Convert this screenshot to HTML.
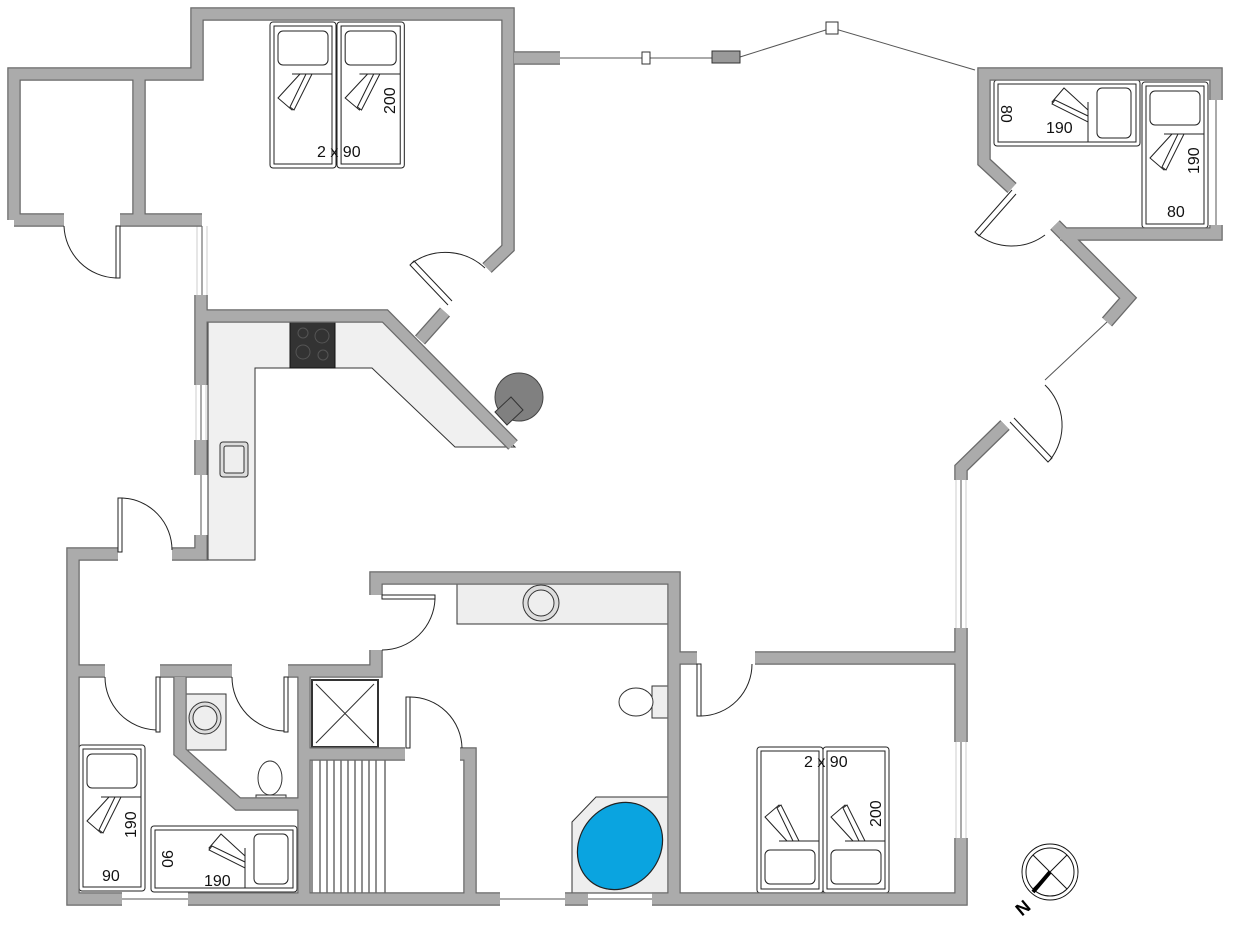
<!DOCTYPE html>
<html><head><meta charset="utf-8"><style>
html,body{margin:0;padding:0;background:#fff;}
svg{display:block;font-family:"Liberation Sans",sans-serif;}
</style></head><body>
<svg width="1243" height="941" viewBox="0 0 1243 941" xmlns="http://www.w3.org/2000/svg">
<defs>
<g id="bed">
  <rect x="0" y="0" width="66" height="146" rx="3" fill="#fff" stroke="#222" stroke-width="1"/>
  <rect x="4" y="4" width="58" height="138" fill="none" stroke="#222" stroke-width="1"/>
  <rect x="8" y="9" width="50" height="34" rx="5" fill="#fff" stroke="#222" stroke-width="1"/>
  <line x1="22" y1="52" x2="62" y2="52" stroke="#222"/>
  <polygon points="30,52 8,76 22,88 40,52" fill="#fff" stroke="#222"/>
  <polygon points="36,52 20,85 24,88 42,52" fill="#fff" stroke="#222"/>
</g>
</defs>

<g fill="#f0f0f0" stroke="#333" stroke-width="1">
  <path d="M208,322 L385,322 L515,447 L455,447 L372,368 L255,368 L255,560 L208,560 Z"/>
</g>
<rect x="290" y="322" width="45" height="46" fill="#333" stroke="#111"/>
<g fill="none" stroke="#555"><circle cx="303" cy="333" r="5"/><circle cx="322" cy="336" r="7"/><circle cx="303" cy="352" r="7"/><circle cx="323" cy="355" r="5"/></g>
<rect x="220" y="442" width="28" height="35" rx="3" fill="#ddd" stroke="#333"/>
<rect x="224" y="446" width="20" height="27" rx="2" fill="#eee" stroke="#333"/>
<circle cx="519" cy="397" r="24" fill="#808080" stroke="#444"/>
<polygon points="495,412 511,397 523,410 507,425" fill="#808080" stroke="#333"/>

<rect x="457" y="584" width="211" height="40" fill="#eee" stroke="#333"/>
<circle cx="541" cy="603" r="18" fill="#ddd" stroke="#333"/>
<circle cx="541" cy="603" r="13" fill="#eee" stroke="#333"/>
<rect x="652" y="686" width="16" height="32" fill="#eee" stroke="#333"/>
<ellipse cx="636" cy="702" rx="17" ry="14" fill="#fff" stroke="#333"/>
<polygon points="572,822 596,797 668,797 668,893 572,893" fill="#eee" stroke="#333"/>
<ellipse cx="620" cy="846" rx="40" ry="46" transform="rotate(40 620 846)" fill="#0aa4e0" stroke="#222" stroke-width="1.2"/>
<rect x="186" y="694" width="40" height="56" fill="#eee" stroke="#333"/>
<circle cx="205" cy="718" r="16" fill="#ddd" stroke="#333"/>
<circle cx="205" cy="718" r="12" fill="#eee" stroke="#333"/>
<ellipse cx="270" cy="778" rx="12" ry="17" fill="#fff" stroke="#333"/>
<rect x="256" y="795" width="30" height="14" fill="#eee" stroke="#333"/>
<rect x="312" y="680" width="66" height="67" fill="#fff" stroke="#333" stroke-width="2"/>
<path d="M316,684 L374,743 M374,684 L316,743" stroke="#333"/>
<g stroke="#222"><rect x="312" y="760" width="73" height="133" fill="#fff"/>
<path d="M320,760V893M327,760V893M334,760V893M341,760V893M348,760V893M355,760V893M362,760V893M369,760V893M376,760V893"/></g>

<use href="#bed" transform="translate(270,22)"/>
<use href="#bed" transform="translate(337,22) scale(1.02,1)"/>
<use href="#bed" transform="translate(757,893) scale(1,-1)"/>
<use href="#bed" transform="translate(823,893) scale(1,-1)"/>
<use href="#bed" transform="translate(1140,80) rotate(90)"/>
<use href="#bed" transform="translate(1142,82)"/>
<use href="#bed" transform="translate(79,745)"/>
<use href="#bed" transform="translate(297,826) rotate(90)"/>

<g font-size="16" fill="#111">
<text x="317" y="157">2 x 90</text>
<text x="804" y="767">2 x 90</text>
<text transform="translate(395,114) rotate(-90)">200</text>
<text transform="translate(881,827) rotate(-90)">200</text>
<text x="1046" y="133">190</text>
<text transform="translate(1001,105) rotate(90)">80</text>
<text transform="translate(1199,174) rotate(-90)">190</text>
<text x="1167" y="217">80</text>
<text transform="translate(136,838) rotate(-90)">190</text>
<text x="102" y="881">90</text>
<text transform="translate(162,850) rotate(90)">90</text>
<text x="204" y="886">190</text>
</g>

<g stroke="#555" stroke-width="1" fill="none">
<path d="M202,226V295 M201,385V440 M201,475V535 M122,899H188 M500,899H565 M588,899H652 M961,838V742 M961,628V480 M1107,322L1045,380 M1216,100V225"/>
<path d="M560,58H720 M740,57L832,28L975,70"/>
</g>
<g stroke="#ccc" stroke-width="1" fill="none">
<path d="M197,226V295 M207,226V295 M196,385V440 M206,385V440 M956,838V742 M966,838V742 M956,628V480 M966,628V480"/>
</g>
<rect x="712" y="51" width="28" height="12" fill="#999" stroke="#333"/>
<rect x="642" y="52" width="8" height="12" fill="#fff" stroke="#333"/>
<rect x="826" y="22" width="12" height="12" fill="#fff" stroke="#333"/>

<g fill="none" stroke-linejoin="miter" stroke-linecap="butt">
<g stroke="#6a6a6a" stroke-width="13.5">
<path d="M14,220 L14,74 L197,74 L197,14 L508,14 L508,248 L487,268"/>
<path d="M64,220 L14,220 M120,220 L202,220 M139,74 L139,220"/>
<path d="M201,295 V385 M201,440 V475 M201,535 V554 L172,554"/>
<path d="M118,554 L73,554 L73,899 L122,899 M188,899 L500,899 M565,899 L588,899 M652,899 L961,899 L961,838 M961,742 V628 M961,480 L961,468 L1005,425"/>
<path d="M1107,322 L1128,298 L1055,225 M1012,188 L984,162 L984,74 L1216,74 L1216,100 M1216,225 L1216,234 L1060,234"/>
<path d="M514,58 L560,58"/>
<path d="M202,316 L385,316 L513,445 M420,340 L445,312"/>
<path d="M73,671 L105,671 M160,671 L232,671 M288,671 L376,671 L376,650 M376,595 L376,578 L674,578 L674,899 M674,658 L697,658 M755,658 L961,658"/>
<path d="M180,677 L180,752 L238,804 L304,804 M304,671 L304,899 M304,754 L405,754 M460,754 L470,754 L470,899"/>
</g>
<g stroke="#ababab" stroke-width="11">
<path d="M14,220 L14,74 L197,74 L197,14 L508,14 L508,248 L487,268"/>
<path d="M64,220 L14,220 M120,220 L202,220 M139,74 L139,220"/>
<path d="M201,295 V385 M201,440 V475 M201,535 V554 L172,554"/>
<path d="M118,554 L73,554 L73,899 L122,899 M188,899 L500,899 M565,899 L588,899 M652,899 L961,899 L961,838 M961,742 V628 M961,480 L961,468 L1005,425"/>
<path d="M1107,322 L1128,298 L1055,225 M1012,188 L984,162 L984,74 L1216,74 L1216,100 M1216,225 L1216,234 L1060,234"/>
<path d="M514,58 L560,58"/>
<path d="M202,316 L385,316 L513,445 M420,340 L445,312"/>
<path d="M73,671 L105,671 M160,671 L232,671 M288,671 L376,671 L376,650 M376,595 L376,578 L674,578 L674,899 M674,658 L697,658 M755,658 L961,658"/>
<path d="M180,677 L180,752 L238,804 L304,804 M304,671 L304,899 M304,754 L405,754 M460,754 L470,754 L470,899"/>
</g>
</g>

<g fill="none" stroke="#222" stroke-width="1">
<rect x="116" y="226" width="4" height="52" fill="#fff"/><path d="M64,226 A54,54 0 0 0 116,278"/>
<path d="M448,305 L410,265 L414,261 L452,301"/><path d="M412,263 A58,58 0 0 1 485,268"/>
<rect x="118" y="498" width="4" height="54" fill="#fff"/><path d="M122,498 A52,52 0 0 1 172,550"/>
<rect x="382" y="595" width="53" height="4" fill="#fff"/><path d="M435,599 A53,53 0 0 1 382,650"/>
<rect x="156" y="677" width="4" height="55" fill="#fff"/><path d="M105,677 A53,53 0 0 0 156,730"/>
<rect x="284" y="677" width="4" height="55" fill="#fff"/><path d="M232,677 A54,54 0 0 0 284,731"/>
<rect x="406" y="697" width="4" height="51" fill="#fff"/><path d="M410,697 A52,52 0 0 1 462,748"/>
<rect x="697" y="664" width="4" height="52" fill="#fff"/><path d="M701,716 A52,52 0 0 0 752,664"/>
<path d="M1012,190 L975,232 L979,236 L1016,194"/><path d="M977,234 A56,56 0 0 0 1045,235"/>
<path d="M1010,422 L1048,462 L1052,458 L1014,418"/><path d="M1050,460 A56,56 0 0 0 1045,385"/>
</g>

<g fill="none" stroke="#111">
<circle cx="1050" cy="872" r="28"/><circle cx="1050" cy="872" r="24"/>
<path d="M1033,855 L1067,889 M1067,855 L1033,889"/>
</g>
<path d="M1050,872 L1033,892" stroke="#000" stroke-width="4"/>
<text x="1015" y="912" font-size="18" font-weight="bold" transform="rotate(-40 1025 905)">N</text>
</svg>
</body></html>
